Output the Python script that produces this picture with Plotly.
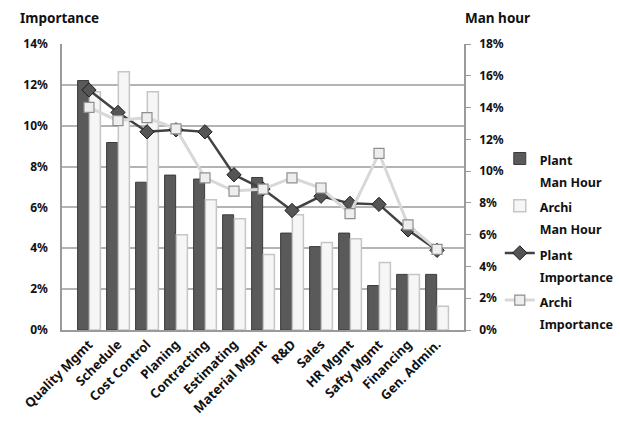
import plotly.graph_objects as go

# Work categories along the x axis
categories = ["Quality Mgmt", "Schedule", "Cost Control", "Planing", "Contracting",
              "Estimating", "Material Mgmt", "R&D", "Sales", "HR Mgmt",
              "Safty Mgmt", "Financing", "Gen. Admin."]

# Man-hour share (%), right axis
manhour_plant = [15.7, 11.8, 9.3, 9.75, 9.5, 7.25, 9.6, 6.1, 5.25, 6.1, 2.8, 3.5, 3.5]
manhour_archi = [15.0, 16.25, 15.0, 6.0, 8.2, 7.0, 4.75, 7.25, 5.5, 5.75, 4.25, 3.5, 1.5]

# Importance (%), left axis
importance_plant = [11.75, 10.65, 9.7, 9.8, 9.7, 7.6, 6.9, 5.85, 6.55, 6.2, 6.15, 4.9, 3.9]
importance_archi = [10.9, 10.25, 10.4, 9.85, 7.45, 6.8, 6.9, 7.45, 6.95, 5.7, 8.65, 5.15, 3.95]

left_ticks = [0, 2, 4, 6, 8, 10, 12, 14]
right_ticks = [0, 2, 4, 6, 8, 10, 12, 14, 16, 18]

FONT = "Noto Sans"


def two_line(a, b):
    s = "<span style='font-size:12.5px'>{}</span>"
    return s.format(a) + "<br>" + s.format(b)


fig = go.Figure()

fig.add_trace(go.Bar(
    x=categories, y=manhour_plant, name=two_line("Plant", "Man Hour"),
    marker=dict(color="#5a5a5a", line=dict(color="#3c3c3c", width=1)),
    yaxis="y",
))
fig.add_trace(go.Bar(
    x=categories, y=manhour_archi, name=two_line("Archi", "Man Hour"),
    marker=dict(color="#f6f6f6", line=dict(color="#c6c6c6", width=1.5)),
    yaxis="y",
))
fig.add_trace(go.Scatter(
    x=categories, y=importance_plant, name=two_line("Plant", "Importance"),
    mode="lines+markers",
    line=dict(color="#424242", width=2.5),
    marker=dict(symbol="diamond", size=11, color="#555555",
                line=dict(color="#1e1e1e", width=1)),
    yaxis="y2",
))
fig.add_trace(go.Scatter(
    x=categories, y=importance_archi, name=two_line("Archi", "Importance"),
    mode="lines+markers",
    line=dict(color="#d8d8d8", width=3),
    marker=dict(symbol="square", size=10, color="#eeeeee",
                line=dict(color="#8e8e8e", width=1.2)),
    yaxis="y2",
))

tick_font = dict(family=FONT, size=12, color="#111111", weight=700)

fig.update_layout(
    width=620, height=435,
    margin=dict(l=62, r=156, t=44, b=105, autoexpand=False),
    paper_bgcolor="white", plot_bgcolor="white",
    barmode="group", bargap=0.19, bargroupgap=0.06,
    font=dict(family=FONT, color="#111111"),
    showlegend=True,
    legend=dict(
        x=1.089, y=0.661, xanchor="left", yanchor="top",
        font=dict(family=FONT, size=17, color="#111111", weight=700),
        valign="top", bgcolor="rgba(0,0,0,0)",
    ),
    xaxis=dict(
        type="category", tickangle=-45,
        tickfont=dict(family=FONT, size=13, color="#111111", weight=700),
        showline=True, linecolor="#9a9a9a", linewidth=1.5, ticks="",
        showgrid=False,
    ),
    yaxis=dict(
        side="right", range=[0, 18], tickvals=right_ticks,
        ticktext=[f"{v}%" for v in right_ticks],
        showgrid=False, zeroline=False,
        showline=True, linecolor="#9a9a9a", linewidth=1.5,
        ticks="outside", ticklen=5, tickcolor="#9a9a9a",
        tickfont=tick_font, ticklabelstandoff=6,
    ),
    yaxis2=dict(
        overlaying="y", side="left", range=[0, 14], tickvals=left_ticks,
        ticktext=[f"{v}%" for v in left_ticks],
        showgrid=True, gridcolor="#b4b4b4", gridwidth=1.5, zeroline=False,
        showline=True, linecolor="#9a9a9a", linewidth=1.5, ticks="",
        tickfont=tick_font, ticklabelstandoff=10,
    ),
    annotations=[
        dict(text="Importance", xref="paper", yref="paper", x=-0.11, y=1.09,
             xanchor="left", yanchor="middle", showarrow=False,
             font=dict(family=FONT, size=13.5, color="#111111", weight=700)),
        dict(text="Man hour", xref="paper", yref="paper", x=0.997, y=1.09,
             xanchor="left", yanchor="middle", showarrow=False,
             font=dict(family=FONT, size=13.5, color="#111111", weight=700)),
    ],
)

fig.write_html("out.html")
